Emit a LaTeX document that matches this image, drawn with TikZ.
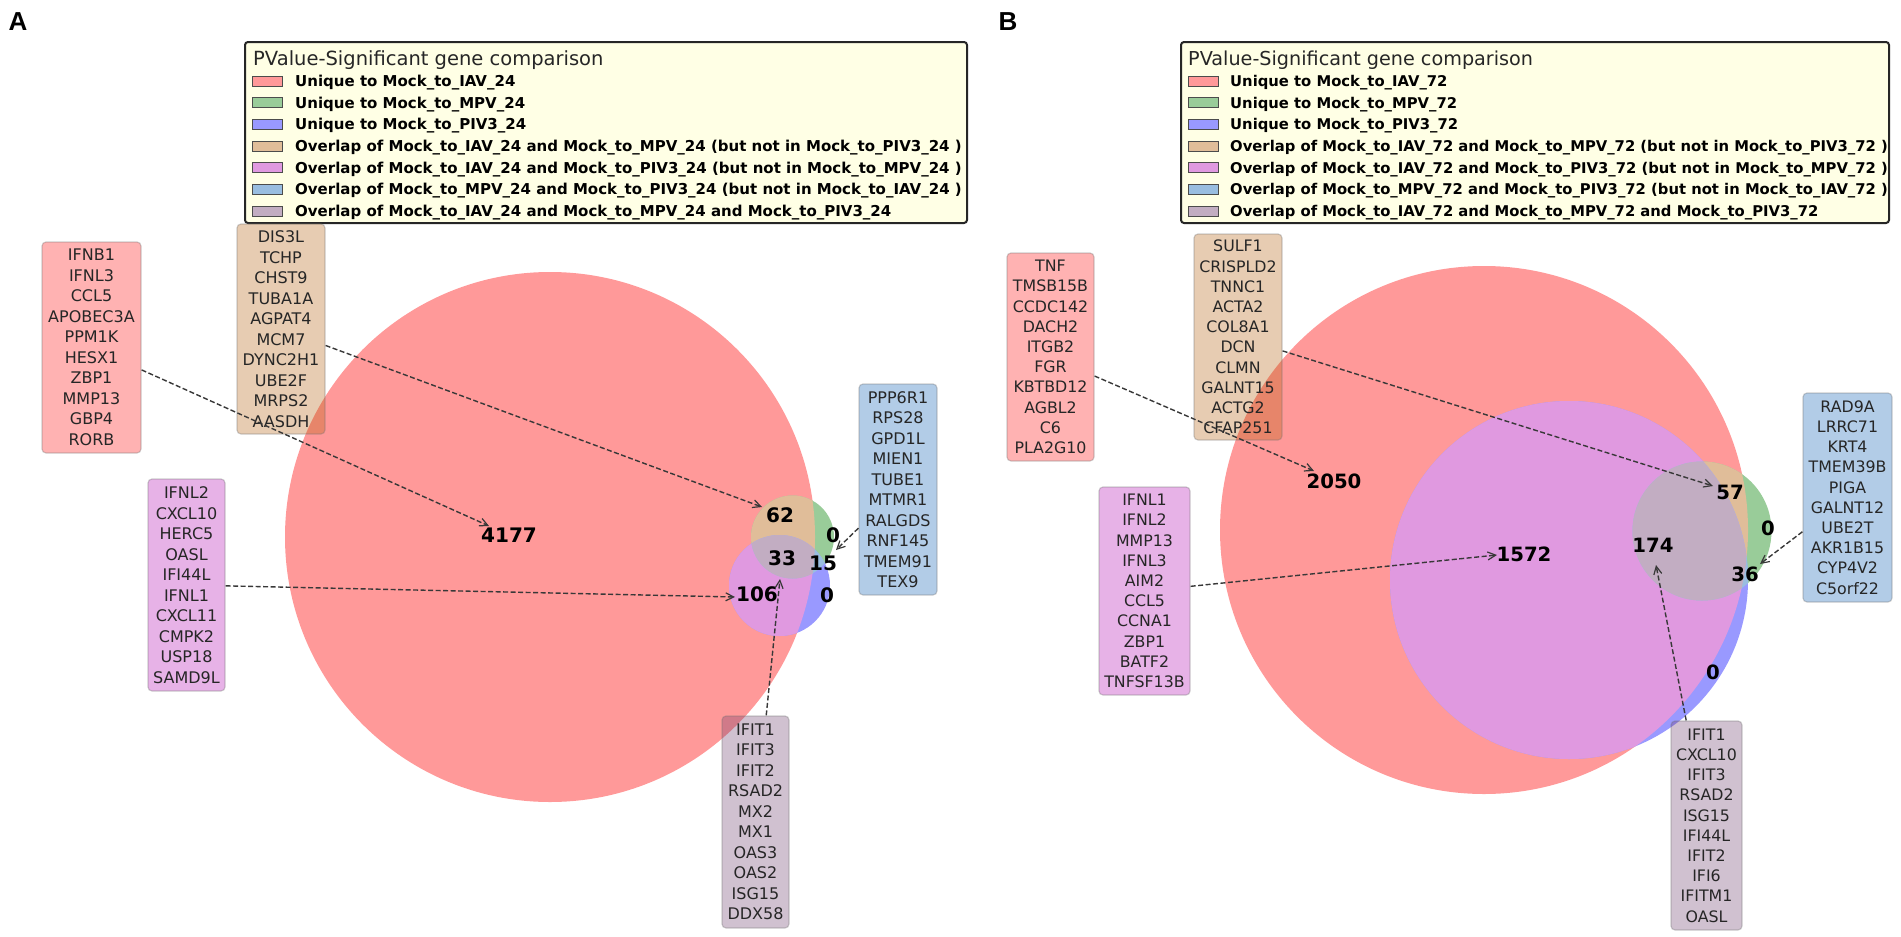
\documentclass[tikz,border=0pt]{standalone}
\usepackage{fontspec}
\setmainfont{DejaVu Sans}
\newfontfamily\panelfont{Liberation Sans}
\usetikzlibrary{arrows.meta}
\definecolor{vR}{RGB}{255,153,153}
\definecolor{vG}{RGB}{153,204,153}
\definecolor{vB}{RGB}{153,153,255}
\definecolor{vRG}{RGB}{224,189,153}
\definecolor{vRB}{RGB}{224,153,224}
\definecolor{vGB}{RGB}{153,189,224}
\definecolor{vRGB}{RGB}{194,173,194}
\definecolor{bR}{rgb}{1,0,0}
\definecolor{bRG}{rgb}{0.7,0.35,0}
\definecolor{bRB}{rgb}{0.7,0,0.7}
\definecolor{bGB}{rgb}{0,0.35,0.7}
\definecolor{bRGB}{rgb}{0.4,0.2,0.4}
\definecolor{legbg}{RGB}{255,255,229}
\newcommand\vennthree[9]{%
  \fill[vR] (#1,#2) circle[radius=#3pt];
  \fill[vG] (#4,#5) circle[radius=#6pt];
  \fill[vB] (#7,#8) circle[radius=#9pt];
  \begin{scope}
    \clip (#1,#2) circle[radius=#3pt];
    \fill[vRG] (#4,#5) circle[radius=#6pt];
    \fill[vRB] (#7,#8) circle[radius=#9pt];
  \end{scope}
  \begin{scope}
    \clip (#4,#5) circle[radius=#6pt];
    \fill[vGB] (#7,#8) circle[radius=#9pt];
    \clip (#1,#2) circle[radius=#3pt];
    \fill[vRGB] (#7,#8) circle[radius=#9pt];
  \end{scope}}
\tikzset{
  genebox/.style={rectangle, rounded corners=4pt, inner sep=0pt, align=center,
    text=black!85, fill opacity=0.3, draw=black!55, draw opacity=0.35,
    line width=1.2pt, text opacity=1},
  geneA/.style={genebox, font=\fontsize{16}{20.5}\selectfont},
  geneB/.style={genebox, font=\fontsize{15.8}{20.2}\selectfont},
  numA/.style={inner sep=0pt, font=\bfseries\fontsize{20}{24}\selectfont},
  numB/.style={inner sep=0pt, font=\bfseries\fontsize{19.7}{24}\selectfont},
  arr/.style={draw=black!78, line width=1.4pt, dash pattern=on 5pt off 2.5pt,
    -{Straight Barb[length=8pt,width=8pt,line width=1.2pt]}},
  legframe/.style={rectangle, draw=black!85, line width=2pt, fill=legbg,
    rounded corners=3pt, inner sep=0pt},
  swatch/.style={rectangle, draw=black!70, line width=1pt, inner sep=0pt,
    minimum width=30pt, minimum height=10pt},
  legtitA/.style={inner sep=0pt, anchor=base west, text=black!85, font=\fontsize{19.5}{23}\selectfont},
  legtitB/.style={inner sep=0pt, anchor=base west, text=black!85, font=\fontsize{19.2}{23}\selectfont},
  legentA/.style={inner sep=0pt, anchor=base west, font=\bfseries\fontsize{15}{18}\selectfont},
  legentB/.style={inner sep=0pt, anchor=base west, font=\bfseries\fontsize{14.8}{18}\selectfont},
  panel/.style={inner sep=0pt, font=\panelfont\bfseries\fontsize{26}{30}\selectfont}
}
\begin{document}
\begin{tikzpicture}[x=1pt,y=-1pt]
\useasboundingbox (0,0) rectangle (1901,937);
\fill[white] (0,0) rectangle (1901,937);

% ---------------- Panel A ----------------
\node[panel] (labA) at (18,22) {A};
\vennthree{550}{537}{265}{792.5}{537}{41.5}{779.5}{585.5}{50.5}

\node[numA] (nA1) at (509,535) {4177};
\node[numA] (nA2) at (780,515) {62};
\node[numA] (nA3) at (833,535) {0};
\node[numA] (nA4) at (782,558) {33};
\node[numA] (nA5) at (823,563) {15};
\node[numA] (nA6) at (757,594) {106};
\node[numA] (nA7) at (827,595) {0};

% legend A
\node[legframe, minimum width=722pt, minimum height=181pt] (legA) at (606,132.5) {};
\node[legtitA] (ltA) at (253,65) {PValue-Significant gene comparison};
\node[swatch, fill=vR]   (sA1) at (267.5,81) {};
\node[swatch, fill=vG]   (sA2) at (267.5,102.7) {};
\node[swatch, fill=vB]   (sA3) at (267.5,124.4) {};
\node[swatch, fill=vRG]  (sA4) at (267.5,146.1) {};
\node[swatch, fill=vRB]  (sA5) at (267.5,167.8) {};
\node[swatch, fill=vGB]  (sA6) at (267.5,189.5) {};
\node[swatch, fill=vRGB] (sA7) at (267.5,211.2) {};
\node[legentA] (eA1) at (295,86.4) {Unique to Mock\_to\_IAV\_24};
\node[legentA] (eA2) at (295,108.1) {Unique to Mock\_to\_MPV\_24};
\node[legentA] (eA3) at (295,129.8) {Unique to Mock\_to\_PIV3\_24};
\node[legentA] (eA4) at (295,151.5) {Overlap of Mock\_to\_IAV\_24 and Mock\_to\_MPV\_24 (but not in Mock\_to\_PIV3\_24 )};
\node[legentA] (eA5) at (295,173.2) {Overlap of Mock\_to\_IAV\_24 and Mock\_to\_PIV3\_24 (but not in Mock\_to\_MPV\_24 )};
\node[legentA] (eA6) at (295,194.9) {Overlap of Mock\_to\_MPV\_24 and Mock\_to\_PIV3\_24 (but not in Mock\_to\_IAV\_24 )};
\node[legentA] (eA7) at (295,216.6) {Overlap of Mock\_to\_IAV\_24 and Mock\_to\_MPV\_24 and Mock\_to\_PIV3\_24};

% gene boxes A
\node[geneA, fill=bR, minimum width=99pt, minimum height=211pt] (gA1) at (91.5,347.5)
  {IFNB1\\IFNL3\\CCL5\\APOBEC3A\\PPM1K\\HESX1\\ZBP1\\MMP13\\GBP4\\RORB};
\node[geneA, fill=bRG, minimum width=88pt, minimum height=210pt] (gA2) at (281,329)
  {DIS3L\\TCHP\\CHST9\\TUBA1A\\AGPAT4\\MCM7\\DYNC2H1\\UBE2F\\MRPS2\\AASDH};
\node[geneA, fill=bRB, minimum width=77pt, minimum height=212pt] (gA3) at (186.5,585)
  {IFNL2\\CXCL10\\HERC5\\OASL\\IFI44L\\IFNL1\\CXCL11\\CMPK2\\USP18\\SAMD9L};
\node[geneA, fill=bGB, minimum width=78pt, minimum height=211pt] (gA4) at (898,489.5)
  {PPP6R1\\RPS28\\GPD1L\\MIEN1\\TUBE1\\MTMR1\\RALGDS\\RNF145\\TMEM91\\TEX9};
\node[geneA, fill=bRGB, minimum width=67pt, minimum height=212pt] (gA5) at (755.5,822)
  {IFIT1\\IFIT3\\IFIT2\\RSAD2\\MX2\\MX1\\OAS3\\OAS2\\ISG15\\DDX58};

\coordinate (tA1) at (489,526);
\coordinate (tA2) at (762,507);
\coordinate (tA3) at (735,597);
\coordinate (tA5) at (780,579);
\coordinate (tA4) at (836,550);
\draw[arr] (gA1) -- (tA1);
\draw[arr] (gA2) -- (tA2);
\draw[arr] (gA3) -- (tA3);
\draw[arr] (gA4) -- (tA4);
\draw[arr] (gA5) -- (tA5);

% ---------------- Panel B ----------------
\node[panel] (labB) at (1008,22) {B};
\vennthree{1484}{530}{264}{1702}{531}{69.5}{1569}{580}{179}

\node[numB] (nB1) at (1334,481) {2050};
\node[numB] (nB2) at (1524,554) {1572};
\node[numB] (nB3) at (1653,545) {174};
\node[numB] (nB4) at (1730,492) {57};
\node[numB] (nB5) at (1768,528) {0};
\node[numB] (nB6) at (1745,574) {36};
\node[numB] (nB7) at (1713,672) {0};

% legend B
\node[legframe, minimum width=708pt, minimum height=181pt] (legB) at (1535,132.5) {};
\node[legtitB] (ltB) at (1188,65) {PValue-Significant gene comparison};
\node[swatch, fill=vR]   (sB1) at (1203,81) {};
\node[swatch, fill=vG]   (sB2) at (1203,102.7) {};
\node[swatch, fill=vB]   (sB3) at (1203,124.4) {};
\node[swatch, fill=vRG]  (sB4) at (1203,146.1) {};
\node[swatch, fill=vRB]  (sB5) at (1203,167.8) {};
\node[swatch, fill=vGB]  (sB6) at (1203,189.5) {};
\node[swatch, fill=vRGB] (sB7) at (1203,211.2) {};
\node[legentB] (eB1) at (1230,86.4) {Unique to Mock\_to\_IAV\_72};
\node[legentB] (eB2) at (1230,108.1) {Unique to Mock\_to\_MPV\_72};
\node[legentB] (eB3) at (1230,129.8) {Unique to Mock\_to\_PIV3\_72};
\node[legentB] (eB4) at (1230,151.5) {Overlap of Mock\_to\_IAV\_72 and Mock\_to\_MPV\_72 (but not in Mock\_to\_PIV3\_72 )};
\node[legentB] (eB5) at (1230,173.2) {Overlap of Mock\_to\_IAV\_72 and Mock\_to\_PIV3\_72 (but not in Mock\_to\_MPV\_72 )};
\node[legentB] (eB6) at (1230,194.9) {Overlap of Mock\_to\_MPV\_72 and Mock\_to\_PIV3\_72 (but not in Mock\_to\_IAV\_72 )};
\node[legentB] (eB7) at (1230,216.6) {Overlap of Mock\_to\_IAV\_72 and Mock\_to\_MPV\_72 and Mock\_to\_PIV3\_72};

% gene boxes B
\node[geneB, fill=bR, minimum width=87pt, minimum height=208pt] (gB1) at (1050.5,357)
  {TNF\\TMSB15B\\CCDC142\\DACH2\\ITGB2\\FGR\\KBTBD12\\AGBL2\\C6\\PLA2G10};
\node[geneB, fill=bRG, minimum width=88pt, minimum height=206pt] (gB2) at (1238,337)
  {SULF1\\CRISPLD2\\TNNC1\\ACTA2\\COL8A1\\DCN\\CLMN\\GALNT15\\ACTG2\\CFAP251};
\node[geneB, fill=bRB, minimum width=91pt, minimum height=208pt] (gB3) at (1144.5,591)
  {IFNL1\\IFNL2\\MMP13\\IFNL3\\AIM2\\CCL5\\CCNA1\\ZBP1\\BATF2\\TNFSF13B};
\node[geneB, fill=bGB, minimum width=89pt, minimum height=209pt] (gB4) at (1847.5,497.5)
  {RAD9A\\LRRC71\\KRT4\\TMEM39B\\PIGA\\GALNT12\\UBE2T\\AKR1B15\\CYP4V2\\C5orf22};
\node[geneB, fill=bRGB, minimum width=71pt, minimum height=209pt] (gB5) at (1706.5,825.5)
  {IFIT1\\CXCL10\\IFIT3\\RSAD2\\ISG15\\IFI44L\\IFIT2\\IFI6\\IFITM1\\OASL};

\coordinate (tB1) at (1314,471);
\coordinate (tB2) at (1713,486);
\coordinate (tB3) at (1497,555);
\coordinate (tB4) at (1760,564);
\coordinate (tB5) at (1656,565);
\draw[arr] (gB1) -- (tB1);
\draw[arr] (gB2) -- (tB2);
\draw[arr] (gB3) -- (tB3);
\draw[arr] (gB4) -- (tB4);
\draw[arr] (gB5) -- (tB5);
\end{tikzpicture}
\end{document}
